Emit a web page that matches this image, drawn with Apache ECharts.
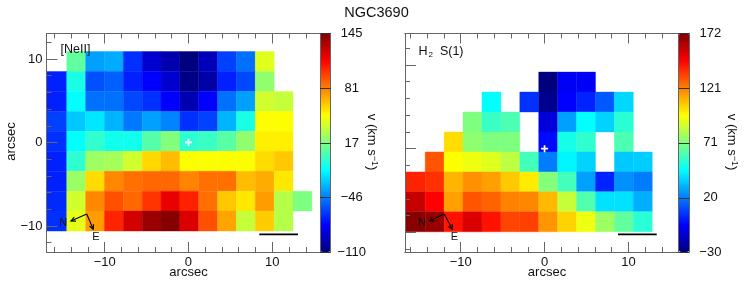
<!DOCTYPE html>
<html>
<head>
<meta charset="utf-8">
<style>html,body{margin:0;padding:0;background:#fff}#c{width:747px;height:285px}</style>
<script src="https://cdn.jsdelivr.net/npm/echarts@6/dist/echarts.min.js"></script>
</head>
<body>
<div id="c"></div>
<script>
// Velocity maps, km/s, rows from north (top) to south (bottom)
const neonRows = [
  [null,10,-38,-35,-66,-90,-98,-110,-95,-62,-50,42,null,null],
  [-70,-8,-58,-54,-70,-78,-90,-108,-100,-70,-60,22,null,null],
  [-70,-14,-50,-50,-60,-66,-78,-97,-78,-50,-38,38,35,null],
  [-62,-28,-20,-33,-48,-38,-45,-66,-62,-33,-8,49,49,null],
  [-66,-14,-2,-10,-10,7,18,-3,0,8,22,53,53,null],
  [-70,-3,25,27,38,59,66,49,49,49,49,58,63,null],
  [-70,24,58,79,85,87,87,80,85,85,66,70,55,null],
  [-68,38,79,93,87,100,118,105,85,63,55,74,31,17],
  [-66,43,74,104,124,138,143,122,93,72,35,62,31,null]
];
const h2Rows = [
  [null,null,null,null,null,null,null,-30,-7,-6,null,null,null],
  [null,null,null,null,46,null,5,-27,-5,2,13,38,null],
  [null,null,null,71,57,61,null,-12,27,46,37,54,null],
  [null,null,103,74,71,71,null,-3,50,55,null,61,null],
  [null,130,96,93,90,83,59,20,44,37,null,35,36],
  [140,137,111,118,115,107,100,72,59,27,2,24,20],
  [158,147,115,130,127,121,120,110,85,62,40,40,30],
  [170,167,143,154,143,133,134,117,105,93,77,65,54]
];
const neonTicks = [-110,-46,17,81,145];
const h2Ticks = [-30,20,71,121,172];
const majorTicks = [-10,0,10];
const xMinorTicks = [-16,-14,-12,-10,-8,-6,-4,-2,0,2,4,6,8,10,12,14];
const yMinorTicks = [-12,-10,-8,-6,-4,-2,0,2,4,6,8,10,12];
const jet = ['#00007f','#0000ff','#007fff','#00ffff','#7fff7f','#ffff00','#ff7f00','#ff0000','#7f0000'];

const FONT = '"Liberation Sans", Arial, sans-serif';
const INK = '#111', AXIS = '#666';
const fmt = v => String(v).replace('-', '\u2212');

const panels = [
  {rows:neonRows, ticks:neonTicks, left:46.5, width:273.5, xr:[-16.94,15.7], yr:[-13.11,13.05],
   x0:-14.52, dx:2.25, y0:10.89, dy:2.388, yLabels:true, barW:10.7},
  {rows:h2Rows, ticks:h2Ticks, left:405, width:273.7, xr:[-16.65,16.0], yr:[-12.36,13.77],
   x0:-14.24, dx:2.257, y0:9.16, dy:2.388, yLabels:false, barW:10.7}
];
const TOP = 33.5, H = 218.5;

const grid=[], xAxis=[], yAxis=[], series=[], visualMap=[];
panels.forEach(p=>{
  const g = grid.length;
  grid.push({left:p.left, top:TOP, width:p.width, height:H, containLabel:false});
  const xBase = {gridIndex:g, type:'value', min:p.xr[0], max:p.xr[1], splitLine:{show:false},
    axisLine:{onZero:false, lineStyle:{color:AXIS, width:1}}, z:5};
  const yBase = {gridIndex:g, type:'value', min:p.yr[0], max:p.yr[1], splitLine:{show:false},
    axisLine:{onZero:false, lineStyle:{color:AXIS, width:1}}, z:5, position:'left'};
  const xi = xAxis.length, yi = yAxis.length;
  const mk = (vals,len)=>({show:true, inside:true, length:len, customValues:vals, lineStyle:{color:AXIS,width:1}});
  xAxis.push(Object.assign({},xBase,{position:'bottom', axisTick:mk(majorTicks,10),
    axisLabel:{show:true, customValues:majorTicks, margin:4, color:INK, fontSize:13, fontFamily:FONT, formatter:fmt}}));
  xAxis.push(Object.assign({},xBase,{position:'bottom', axisTick:mk(xMinorTicks,5), axisLabel:{show:false}}));
  xAxis.push(Object.assign({},xBase,{position:'top', axisTick:mk(majorTicks,10), axisLabel:{show:false}}));
  xAxis.push(Object.assign({},xBase,{position:'top', axisTick:mk(xMinorTicks,5), axisLabel:{show:false}}));
  yAxis.push(Object.assign({},yBase,{axisTick:mk(majorTicks,11),
    axisLabel:{show:p.yLabels, customValues:majorTicks, margin:4, color:INK, fontSize:13, fontFamily:FONT, formatter:fmt, padding:[0,0,5,0]}}));
  yAxis.push(Object.assign({},yBase,{axisTick:mk(yMinorTicks,5), axisLabel:{show:false}}));

  // heat cells, placed in arcsec through the axes
  const cells=[];
  p.rows.forEach((row,r)=>row.forEach((v,c)=>{
    if(v===null) return;
    const xa = c===0 ? p.xr[0] : p.x0+(c-1)*p.dx, xb = p.x0+c*p.dx;
    const ya = p.y0-r*p.dy, yb = ya-p.dy;
    cells.push([(xa+xb)/2,(ya+yb)/2,v,xa,xb,ya,yb]);
  }));
  const si = series.length;
  series.push({type:'custom', coordinateSystem:'cartesian2d', xAxisIndex:xi, yAxisIndex:yi, z:1, silent:true,
    data:cells, encode:{x:0,y:1}, clip:true, animation:false,
    renderItem:(params,api)=>{
      const a=api.coord([api.value(3),api.value(5)]), b=api.coord([api.value(4),api.value(6)]);
      const col=api.visual('color');
      return {type:'rect', shape:{x:a[0],y:a[1],width:b[0]-a[0],height:b[1]-a[1]},
        style:{fill:col, stroke:col, lineWidth:0.4}};
    }});
  series.push({type:'scatter', xAxisIndex:xi, yAxisIndex:yi, z:3, silent:true, animation:false,
    data:[[0,0]], symbol:'path://M-1 -4h2v3h3v2h-3v3h-2v-3h-3v-2h3z', symbolSize:7,
    itemStyle:{color:'#fff', opacity:1}});

  // colour bar
  const bg = grid.length, barLeft = p.left+p.width;
  grid.push({left:barLeft, top:TOP, width:p.barW, height:H});
  const vMin=p.ticks[0], vMax=p.ticks[p.ticks.length-1];
  xAxis.push({gridIndex:bg, type:'value', min:0, max:1, show:false});
  yAxis.push({gridIndex:bg, type:'value', min:vMin, max:vMax, position:'right', z:6, splitLine:{show:false},
    axisLine:{onZero:false, lineStyle:{color:AXIS}},
    axisTick:{show:true, inside:true, length:p.barW, customValues:p.ticks, lineStyle:{color:'#333',width:1}},
    axisLabel:{show:true, customValues:p.ticks, margin:21, align:'center', color:INK, fontSize:13, fontFamily:FONT, formatter:fmt, padding:[0,0,5,0]}});
  yAxis.push({gridIndex:bg, type:'value', min:vMin, max:vMax, position:'left', z:6, splitLine:{show:false},
    axisLine:{onZero:false, lineStyle:{color:AXIS}}, axisTick:{show:false}, axisLabel:{show:false}});
  visualMap.push({type:'continuous', seriesIndex:[si], dimension:2, min:vMin, max:vMax,
    calculable:false, hoverLink:false, left:barLeft, top:TOP, itemWidth:p.barW, itemHeight:H,
    padding:0, showLabel:false, text:null, inRange:{color:jet}, orient:'vertical'});
});

const txt=(x,y,text,extra)=>Object.assign({type:'text', x, y, silent:true, z:20,
  style:Object.assign({text, fill:INK, font:'13px '+FONT, align:'center', verticalAlign:'middle'},extra&&extra.style||{})},
  extra&&extra.el||{});
const line=(pts,w)=>({type:'polyline', silent:true, z:20, shape:{points:pts}, style:{stroke:'#000', fill:'none', lineWidth:w||1}});
const velRich={a:{font:'13px '+FONT, fill:INK}, s:{font:'9px '+FONT, fill:INK, verticalAlign:'top', padding:[0,0,5,0]}};
const velTitle=(x)=>({type:'text', x, y:142, rotation:-Math.PI/2, silent:true, z:20,
  style:{rich:velRich, text:'{a|v (km s}{s|\u22121}{a|)}', align:'center', verticalAlign:'middle'}});
const arrow=(ox,oy,tx,ty)=>{
  const ang=Math.atan2(ty-oy,tx-ox), L=5, W=0.45;
  return [line([[ox,oy],[tx,ty]],1.1),
    line([[tx-L*Math.cos(ang-W),ty-L*Math.sin(ang-W)],[tx,ty],[tx-L*Math.cos(ang+W),ty-L*Math.sin(ang+W)]],1.1)];
};
const graphic=[
  txt(376.5,13,'NGC3690',{style:{font:'14.5px '+FONT}}),
  txt(188.5,272.5,'arcsec'),
  txt(547,272.5,'arcsec'),
  txt(11,141.5,'arcsec',{el:{rotation:Math.PI/2}}),
  velTitle(372), velTitle(732),
  txt(75.5,50,'[NeII]',{style:{font:'12.5px '+FONT}}),
  {type:'text', x:441, y:52, silent:true, z:20, style:{align:'center', verticalAlign:'middle', text:'{a|H}{s|2}{a|  S(1)}',
    rich:{a:{font:'12.5px '+FONT, fill:INK}, s:{font:'8px '+FONT, fill:INK, verticalAlign:'bottom', padding:[5,0,0,1]}}}},
  txt(63.3,223.3,'N',{style:{font:'11px '+FONT}}),
  txt(96,237,'E',{style:{font:'11px '+FONT}}),
  txt(422,223.3,'N',{style:{font:'11px '+FONT}}),
  txt(454.3,237,'E',{style:{font:'11px '+FONT}}),
  ...arrow(86.7,214,71,221), ...arrow(86.7,214,93.3,229.3),
  ...arrow(444.3,214,429.3,221), ...arrow(444.3,214,452.3,229.3),
  line([[259.3,234.3],[298,234.3]],1.8),
  line([[618,234.3],[656.7,234.3]],1.8)
];

const chart=echarts.init(document.getElementById('c'),null,{renderer:'canvas'});
chart.setOption({animation:false, backgroundColor:'#fff', tooltip:{show:false},
  grid, xAxis, yAxis, series, visualMap, graphic});
</script>
</body>
</html>
